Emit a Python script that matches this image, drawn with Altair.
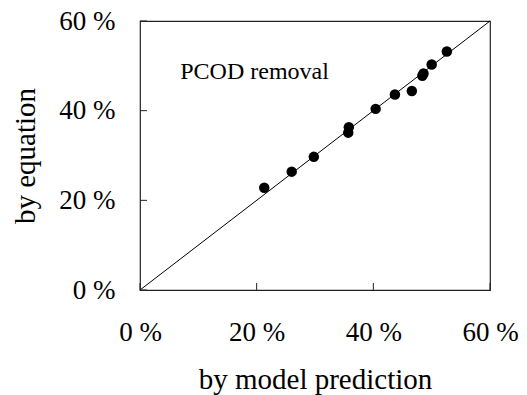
import altair as alt
import pandas as pd

# data (percent)
model_pred = [21.3, 26.0, 29.8, 35.8, 35.7, 40.4, 43.7, 46.6, 48.4, 48.6, 50.0, 52.6]
by_equation = [22.8, 26.4, 29.7, 36.3, 35.1, 40.4, 43.6, 44.4, 47.8, 48.3, 50.3, 53.2]
diag = [0, 60]
tick_values = [0, 20, 40, 60]
label_text = ["PCOD removal"]
label_x = [6.9]
label_y = [48.6]

FONT = "Liberation Serif"
W, H = 350, 269

pts = pd.DataFrame({"x": model_pred, "y": by_equation})
line_df = pd.DataFrame({"x": diag, "y": diag})
ticks_df = pd.DataFrame({"t": tick_values})
lab_df = pd.DataFrame({"x": label_x, "y": label_y, "text": label_text})

xs = alt.Scale(domain=[0, 60], nice=False, zero=True)
ys = alt.Scale(domain=[0, 60], nice=False, zero=True)

xaxis = alt.Axis(values=tick_values, labelExpr="datum.value + ' %'", ticks=False,
                 grid=False, domain=False, labelFont=FONT, labelFontSize=27,
                 labelColor="black", labelPadding=29, title="by model prediction",
                 titleFont=FONT, titleFontSize=29, titleFontWeight="normal",
                 titleColor="black", titlePadding=20, labelFlush=False)
yaxis = alt.Axis(values=tick_values, labelExpr="datum.value + ' %'", ticks=False,
                 grid=False, domain=False, labelFont=FONT, labelFontSize=27,
                 labelColor="black", labelPadding=25, title="by equation",
                 titleFont=FONT, titleFontSize=29, titleFontWeight="normal",
                 titleColor="black", titlePadding=18, labelFlush=False)

line = alt.Chart(line_df).mark_line(color="black", strokeWidth=1).encode(
    x=alt.X("x:Q", scale=xs, axis=xaxis),
    y=alt.Y("y:Q", scale=ys, axis=yaxis),
)

points = alt.Chart(pts).mark_circle(color="black", opacity=1, size=110).encode(
    x=alt.X("x:Q", scale=xs),
    y=alt.Y("y:Q", scale=ys),
)

xticks = alt.Chart(ticks_df).mark_rule(color="#222", strokeWidth=1).encode(
    x=alt.X("t:Q", scale=xs),
    y=alt.value(H),
    y2=alt.value(H - 7),
)
yticks = alt.Chart(ticks_df).mark_rule(color="#222", strokeWidth=1).encode(
    y=alt.Y("t:Q", scale=ys),
    x=alt.value(0),
    x2=alt.value(7),
)

text = alt.Chart(lab_df).mark_text(font=FONT, fontSize=24, align="left",
                                   baseline="middle", color="black").encode(
    x=alt.X("x:Q", scale=xs),
    y=alt.Y("y:Q", scale=ys),
    text="text:N",
)

chart = alt.layer(line, xticks, yticks, points, text).properties(
    width=W, height=H,
    autosize=alt.AutoSizeParams(type="none"),
    padding={"left": 140, "top": 21, "right": 37, "bottom": 105},
).configure(
    background="white",
    view=alt.ViewConfig(stroke="#222", strokeWidth=1.2),
)

chart.save("out.html", embed_options={"renderer": "svg", "actions": False})
